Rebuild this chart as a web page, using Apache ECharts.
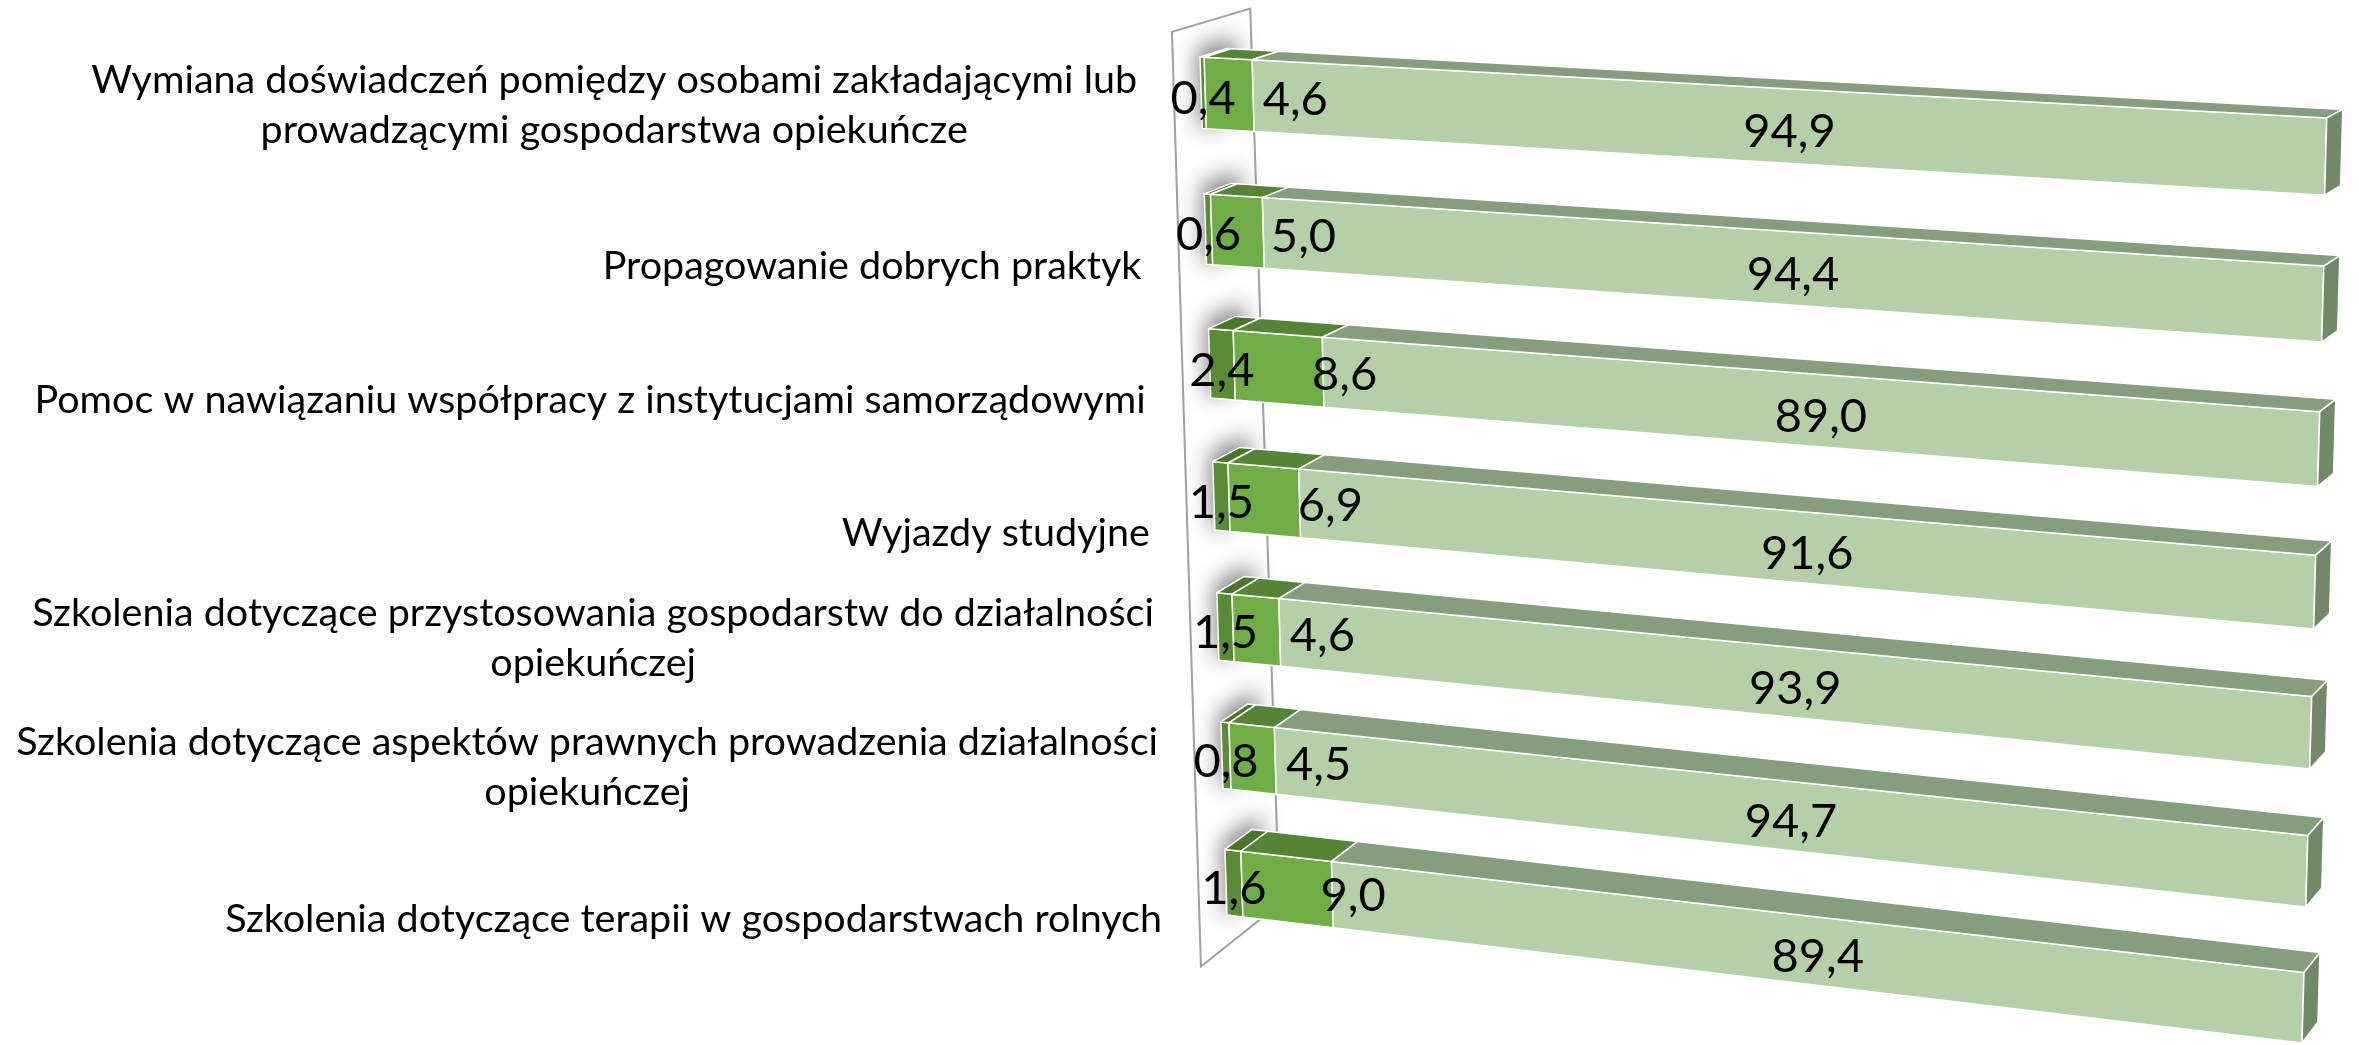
<!DOCTYPE html>
<html>
<head>
    <meta charset="utf-8">
    <title>Formy wsparcia gospodarstw opiekuńczych</title>
    <script src="https://cdn.jsdelivr.net/npm/echarts@6/dist/echarts.min.js"></script>
</head>
<body style="margin:0; background:#fff;">
    <div id="main" style="width:2359px; height:1045px;"></div>
<script type="text/javascript">

// categories, top to bottom
var categories = [
    'Wymiana doświadczeń pomiędzy osobami zakładającymi lub\nprowadzącymi gospodarstwa opiekuńcze',
    'Propagowanie dobrych praktyk',
    'Pomoc w nawiązaniu współpracy z instytucjami samorządowymi',
    'Wyjazdy studyjne',
    'Szkolenia dotyczące przystosowania gospodarstw do działalności\nopiekuńczej',
    'Szkolenia dotyczące aspektów prawnych prowadzenia działalności\nopiekuńczej',
    'Szkolenia dotyczące terapii w gospodarstwach rolnych'
];
var valuesDark = [0.4, 0.6, 2.4, 1.5, 1.5, 0.8, 1.6];
var valuesMid = [4.6, 5.0, 8.6, 6.9, 4.6, 4.5, 9.0];
var valuesLight = [94.9, 94.4, 89.0, 91.6, 93.9, 94.7, 89.4];

var seriesValues = [valuesDark, valuesMid, valuesLight];
var seriesNames = ['Seria 1', 'Seria 2', 'Seria 3'];

// colours of the faces (front / top / right side)
var faceColors = [
    { front: '#5a8c35', top: '#4b752b', side: '#44692a' },
    { front: '#70ad47', top: '#568436', side: '#4d7631' },
    { front: '#b5cfa9', top: '#879d7f', side: '#738769' }
];
var labelShift = [0, 66, 0];
var CAT_FONT = '39.5px Lato';

// 3d look: front plane is a perspective (homography) of the flat grid
var BAR_FRAC = 0.52;
var N = categories.length;
var vTop = (0.5 - BAR_FRAC / 2) / N;
var vBot = (N - 0.5 + BAR_FRAC / 2) / N;

function fitHomography(src, dst) {
    var A = [], b = [];
    for (var i = 0; i < 4; i++) {
        var u = src[i][0], v = src[i][1], x = dst[i][0], y = dst[i][1];
        A.push([u, v, 1, 0, 0, 0, -u * x, -v * x]); b.push(x);
        A.push([0, 0, 0, u, v, 1, -u * y, -v * y]); b.push(y);
    }
    for (var c = 0; c < 8; c++) {
        var p = c;
        for (var r = c + 1; r < 8; r++) {
            if (Math.abs(A[r][c]) > Math.abs(A[p][c])) p = r;
        }
        var t = A[c]; A[c] = A[p]; A[p] = t;
        t = b[c]; b[c] = b[p]; b[p] = t;
        for (var r2 = c + 1; r2 < 8; r2++) {
            var f = A[r2][c] / A[c][c];
            for (var k = c; k < 8; k++) A[r2][k] -= f * A[c][k];
            b[r2] -= f * b[c];
        }
    }
    var h = [];
    for (var r3 = 7; r3 >= 0; r3--) {
        var s = b[r3];
        for (var k2 = r3 + 1; k2 < 8; k2++) s -= A[r3][k2] * h[k2];
        h[r3] = s / A[r3][r3];
    }
    return h;
}

var H = fitHomography(
    [[0, vTop], [1, vTop], [0, vBot], [1, vBot]],
    [[1200, 57], [2328, 118], [1227, 915], [2302, 1043]]
);

function depthVec(u, v) {
    var t = (v - vTop) / (vBot - vTop);
    return [27 - 11 * u, -8.5 - 12.5 * t];
}

// flat grid point (px, py) + depth z  ->  screen point
function project(rect, px, py, z) {
    var u = (px - rect.x) / rect.width;
    var v = (py - rect.y) / rect.height;
    var w = H[6] * u + H[7] * v + 1;
    var x = (H[0] * u + H[1] * v + H[2]) / w;
    var y = (H[3] * u + H[4] * v + H[5]) / w;
    var d = depthVec(u, v);
    return [x + z * d[0], y + z * d[1]];
}

function fmt(v) {
    return v.toFixed(1).replace('.', ',');
}

var measureCtx = document.createElement('canvas').getContext('2d');
measureCtx.font = CAT_FONT;

function renderWall(params, api) {
    var rect = params.coordSys;
    var x0 = api.coord([0, 0])[0];
    var band = api.size([0, 1])[1];
    var half = band * BAR_FRAC / 2;
    var children = [];

    children.push({
        type: 'polygon',
        shape: { points: [
            project(rect, x0, rect.y, -1),
            project(rect, x0, rect.y, 1.9),
            project(rect, x0, rect.y + rect.height, 1.9),
            project(rect, x0, rect.y + rect.height, -1)
        ] },
        style: { fill: '#fff', stroke: '#a0a0a0', lineWidth: 2 }
    });

    for (var i = 0; i < N; i++) {
        var cy = api.coord([0, i])[1];
        // soft shadow of the bar end on the wall (shape drawn off screen, only its shadow shows)
        var pts = [
            project(rect, x0, cy - half * 1.15, -0.1),
            project(rect, x0, cy - half * 1.15, 1.3),
            project(rect, x0, cy + half * 1.1, 1.3),
            project(rect, x0, cy + half * 1.1, -0.1)
        ].map(function (p) { return [p[0] + 4000, p[1]]; });
        children.push({
            type: 'polygon',
            shape: { points: pts },
            style: {
                fill: '#000',
                shadowBlur: 22,
                shadowColor: 'rgba(0,0,0,0.5)',
                shadowOffsetX: -4000,
                shadowOffsetY: -4
            }
        });

        var anchor = project(rect, x0, cy, 0);
        var lines = categories[i].split('\n');
        var wMax = 0;
        lines.forEach(function (l) { wMax = Math.max(wMax, measureCtx.measureText(l).width); });
        var right = anchor[0] - 64;
        children.push({
            type: 'text',
            z2: 100,
            style: {
                text: categories[i],
                x: right - wMax / 2,
                y: anchor[1] + 62,
                align: 'center', textAlign: 'center',
                verticalAlign: 'bottom', textVerticalAlign: 'bottom',
                font: CAT_FONT,
                lineHeight: 50,
                fill: '#000'
            }
        });
    }
    return { type: 'group', children: children };
}

function makeRenderBar(s) {
    return function (params, api) {
        var rect = params.coordSys;
        var start = api.value(0), end = api.value(1), cat = api.value(2);
        var p0 = api.coord([start, cat]);
        var p1 = api.coord([end, cat]);
        var half = api.size([0, 1])[1] * BAR_FRAC / 2;
        var top = p0[1] - half, bot = p0[1] + half;
        var col = faceColors[s];
        var edge = { stroke: '#ffffff', lineWidth: 1.5, lineJoin: 'round' };
        var fl = project(rect, p0[0], top, 0), fr = project(rect, p1[0], top, 0);
        var br = project(rect, p1[0], bot, 0), bl = project(rect, p0[0], bot, 0);
        var children = [
            { type: 'polygon', shape: { points: [fl, fr, br, bl] },
              style: Object.assign({ fill: col.front }, edge) },
            { type: 'polygon', shape: { points: [fl, fr, project(rect, p1[0], top, 1), project(rect, p0[0], top, 1)] },
              style: Object.assign({ fill: col.top }, edge) }
        ];
        if (s === seriesValues.length - 1) {
            children.push({
                type: 'polygon',
                shape: { points: [fr, project(rect, p1[0], top, 1), project(rect, p1[0], bot, 1), br] },
                style: Object.assign({ fill: col.side }, edge)
            });
        }
        children.push({
            type: 'text',
            z2: 100,
            style: {
                text: fmt(api.value(3)),
                x: (fl[0] + fr[0] + br[0] + bl[0]) / 4 + labelShift[s],
                y: (fl[1] + fr[1] + br[1] + bl[1]) / 4 + 6,
                align: 'center', textAlign: 'center',
                verticalAlign: 'middle', textVerticalAlign: 'middle',
                font: '47px Lato',
                fill: '#000'
            }
        });
        return { type: 'group', children: children };
    };
}

var barSeries = seriesValues.map(function (vals, s) {
    var data = vals.map(function (v, i) {
        var base = 0;
        for (var k = 0; k < s; k++) base += seriesValues[k][i];
        return [base, base + v, i, v];
    });
    return {
        name: seriesNames[s],
        type: 'custom',
        z: 2,
        renderItem: makeRenderBar(s),
        encode: { x: [0, 1], y: 2 },
        data: data
    };
});

var myChart = echarts.init(document.getElementById('main'));
var option = {
    animation: false,
    grid: { left: 0, top: 0, width: 1000, height: 1000 },
    xAxis: { type: 'value', min: 0, max: 100, show: false },
    yAxis: { type: 'category', data: categories, inverse: true, show: false },
    series: [{
        name: 'wall',
        type: 'custom',
        z: 1,
        renderItem: renderWall,
        data: [[0, 0]]
    }].concat(barSeries)
};
myChart.setOption(option);
</script>
</body>
</html>
